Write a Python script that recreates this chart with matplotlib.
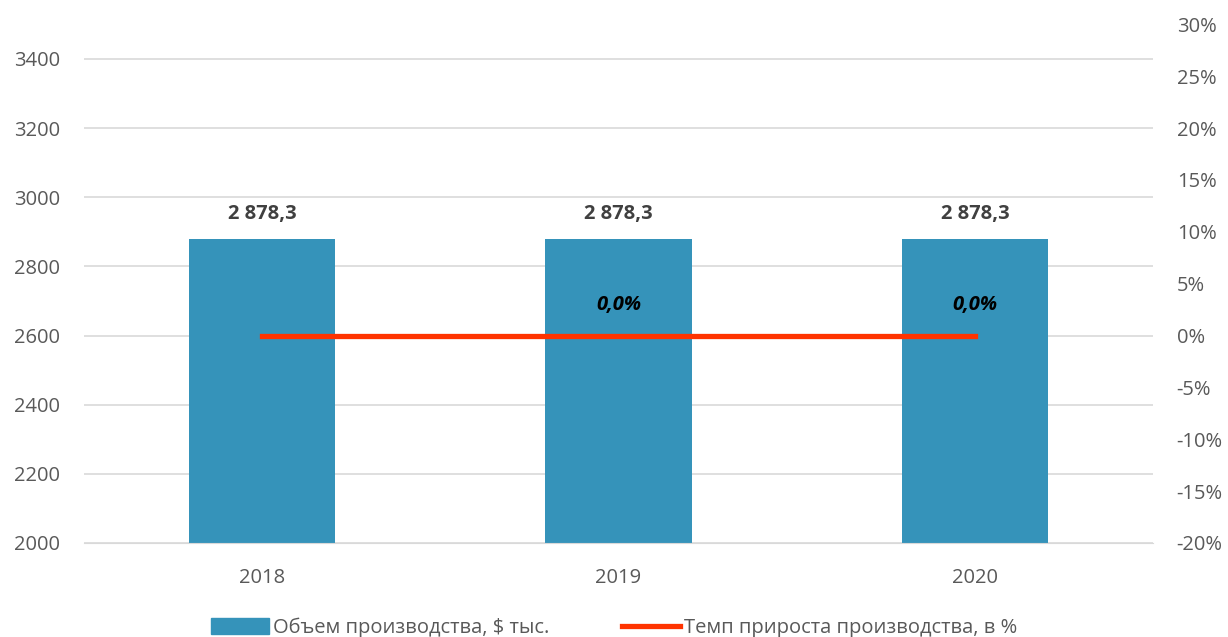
import matplotlib
matplotlib.use("Agg")
import matplotlib.pyplot as plt
from matplotlib.patches import Patch
from matplotlib.lines import Line2D

years = ["2018", "2019", "2020"]
volume = [2878.3, 2878.3, 2878.3]
growth = [0.0, 0.0, 0.0]
volume_labels = ["2 878,3", "2 878,3", "2 878,3"]
growth_labels = ["", "0,0%", "0,0%"]
left_ticks = [2000, 2200, 2400, 2600, 2800, 3000, 3200, 3400]
right_ticks = [-20, -15, -10, -5, 0, 5, 10, 15, 20, 25, 30]

plt.rcParams['font.family'] = ['Open Sans', 'DejaVu Sans']
BAR = "#3593BA"
LINE = "#FF3300"
TXT = "#595959"

fig = plt.figure(figsize=(12.28, 6.37), dpi=100)
ax = fig.add_axes([0.0684, 0.1476, 0.8706, 0.8141])
x = list(range(len(years)))
ax.bar(x, volume, width=0.41, color=BAR, zorder=2)
ax.set_xlim(-0.5, 2.5)
ax.set_ylim(2000, 3500)
ax.set_yticks(left_ticks)
ax.set_yticklabels([str(t) for t in left_ticks])
ax.set_xticks(x)
ax.set_xticklabels(years)
ax.grid(axis='y', color="#D9D9D9", linewidth=1.2, zorder=0)
for s in ax.spines.values():
    s.set_visible(False)
ax.spines['bottom'].set_visible(True)
ax.spines['bottom'].set_color("#D9D9D9")
ax.tick_params(axis='both', length=0, labelsize=14.5, colors=TXT, pad=17)
ax.tick_params(axis='x', pad=18)

for xi, v, lab in zip(x, volume, volume_labels):
    ax.annotate(lab, (xi, v), xytext=(0, 11), textcoords='offset points',
                ha='center', va='bottom', fontsize=14.5, fontweight='bold', color="#404040")

ax2 = ax.twinx()
ax2.set_ylim(-20, 30)
ax2.set_yticks(right_ticks)
ax2.set_yticklabels([f"{t}%" for t in right_ticks])
ax2.plot(x, growth, color=LINE, linewidth=3.8, zorder=3)
for s in ax2.spines.values():
    s.set_visible(False)
ax2.tick_params(axis='y', length=0, labelsize=14.5, colors=TXT, pad=17)
for xi, g, lab in zip(x, growth, growth_labels):
    if lab:
        ax2.annotate(lab, (xi, g), xytext=(0, 15), textcoords='offset points',
                     ha='center', va='bottom', fontsize=14.5, fontweight='bold',
                     fontstyle='italic', color="black")

handles = [Patch(facecolor=BAR, edgecolor=BAR),
           Line2D([0], [0], color=LINE, linewidth=3.8)]
labels = ["Объем производства, $ тыс.", "Темп прироста производства, в %"]
fig.legend(handles, labels, loc='lower center', bbox_to_anchor=(0.5, -0.03), ncol=2,
           frameon=False, fontsize=14.5, handlelength=2.9, handleheight=0.8,
           columnspacing=3.6, handletextpad=0.2, labelcolor=TXT)

fig.savefig("out.png", dpi=100)
